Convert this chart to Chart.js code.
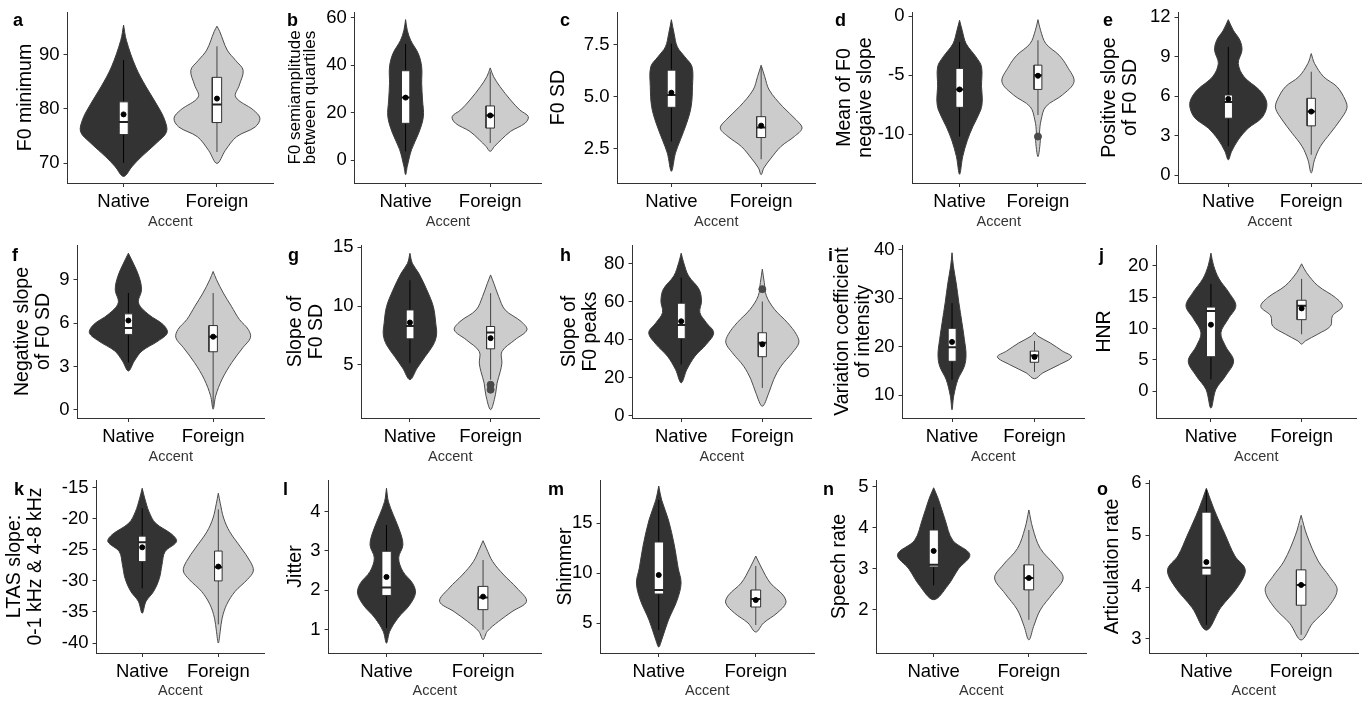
<!DOCTYPE html>
<html>
<head>
<meta charset="utf-8">
<script src="https://cdn.jsdelivr.net/npm/chart.js@4.4.1/dist/chart.umd.min.js"></script>
<style>
  body { margin: 0; background: #fff; width: 1370px; height: 702px; position: relative; overflow: hidden; }
  canvas { position: absolute; }
  .tag { position: absolute; font-family: 'Liberation Sans', Arial, sans-serif; font-weight: bold; font-size: 18px; line-height: 18px; color: #000; }
</style>
</head>
<body>
<script>
// ---- data ----
const categories = ['Native', 'Foreign'];
const panelLetters = ['a', 'b', 'c', 'd', 'e', 'f', 'g', 'h', 'i', 'j', 'k', 'l', 'm', 'n', 'o'];
const yTitles = [
  ['F0 minimum'], ['F0 semiamplitude', 'between quartiles'], ['F0 SD'], ['Mean of F0', 'negaive slope'], ['Positive slope', 'of F0 SD'],
  ['Negative slope', 'of F0 SD'], ['Slope of', 'F0 SD'], ['Slope of', 'F0 peaks'], ['Variation coefficient', 'of intensity'], ['HNR'],
  ['LTAS slope:', '0-1 kHz & 4-8 kHz'], ['Jitter'], ['Shimmer'], ['Speech rate'], ['Articulation rate']
];
const yTicks = [
  [70, 80, 90], [0, 20, 40, 60], [2.5, 5, 7.5], [-10, -5, 0], [0, 3, 6, 9, 12],
  [0, 3, 6, 9], [5, 10, 15], [0, 20, 40, 60, 80], [10, 20, 30, 40], [0, 5, 10, 15, 20],
  [-40, -35, -30, -25, -20, -15], [1, 2, 3, 4], [5, 10, 15], [2, 3, 4, 5], [3, 4, 5, 6]
];
const yTickLabels = [
  ['70', '80', '90'], ['0', '20', '40', '60'], ['2.5', '5.0', '7.5'], ['-10', '-5', '0'], ['0', '3', '6', '9', '12'],
  ['0', '3', '6', '9'], ['5', '10', '15'], ['0', '20', '40', '60', '80'], ['10', '20', '30', '40'], ['0', '5', '10', '15', '20'],
  ['-40', '-35', '-30', '-25', '-20', '-15'], ['1', '2', '3', '4'], ['5', '10', '15'], ['2', '3', '4', '5'], ['3', '4', '5', '6']
];
const yRanges = [
  [66.4, 97.8], [-9.5, 62.4], [0.86, 9.06], [-14.14, 0.37], [-0.58, 12.38],
  [-0.56, 11.4], [0.47, 15.2], [-1.2, 89.7], [5.3, 41], [-4.27, 23.3],
  [-41.6, -13.77], [0.41, 4.8], [2.0, 19.3], [0.95, 5.17], [2.73, 6.06]
];

// violin outlines: levels (top to bottom) and half widths (in category units)
const nativeViolinY = [
  [95.4, 92.6, 87.7, 84.1, 80.4, 78.0, 75.8, 73.7, 71.2, 69.4, 67.6],
  [59.2, 54.7, 50.5, 44.9, 39.3, 32.4, 25.4, 18.4, 11.5, 4.5, -2.5, -6.0],
  [8.69, 8.03, 7.39, 6.91, 6.43, 5.48, 4.52, 3.73, 2.93, 2.29, 1.42],
  [-0.34, -1.18, -2.31, -3.44, -4.28, -5.97, -7.1, -7.94, -9.35, -10.5, -11.9, -13.4],
  [11.8, 11.0, 10.24, 9.48, 8.48, 7.47, 6.47, 5.71, 5.08, 4.33, 3.57, 2.69, 1.81, 1.18],
  [10.83, 10.15, 9.23, 8.31, 7.39, 6.59, 5.9, 5.33, 4.76, 4.07, 3.38, 2.69],
  [14.49, 13.64, 12.79, 11.37, 9.96, 8.54, 7.55, 6.7, 5.71, 4.72, 3.73],
  [85.4, 80.5, 73.5, 66.5, 60.3, 54.2, 48.9, 43.6, 37.5, 31.3, 24.3, 17.3],
  [39.4, 36.7, 33.2, 29.1, 25.0, 21.5, 18.4, 16.0, 13.2, 9.8, 7.0],
  [22.0, 20.0, 17.9, 15.7, 13.6, 11.5, 9.3, 7.2, 4.8, 2.4, 0.27, -2.7],
  [-15.1, -16.7, -18.9, -20.7, -22.6, -23.7, -25.3, -27.4, -29.6, -31.7, -33.3, -35.2],
  [4.59, 4.25, 3.92, 3.49, 3.15, 2.82, 2.48, 2.18, 1.93, 1.63, 1.3, 0.96, 0.66],
  [18.7, 17.3, 15.3, 12.8, 10.5, 9.0, 7.3, 5.3, 3.3, 2.6],
  [4.98, 4.7, 4.2, 3.7, 3.35, 3.0, 2.6, 2.25],
  [5.9, 5.5, 5.0, 4.6, 4.33, 4.0, 3.6, 3.17]
];
const nativeViolinW = [
  [0, 0.03, 0.13, 0.24, 0.37, 0.44, 0.46, 0.35, 0.19, 0.09, 0],
  [0, 0.02, 0.06, 0.15, 0.19, 0.19, 0.2, 0.21, 0.155, 0.07, 0.02, 0],
  [0, 0.03, 0.066, 0.15, 0.23, 0.235, 0.22, 0.17, 0.1, 0.045, 0],
  [0, 0.033, 0.083, 0.21, 0.28, 0.28, 0.29, 0.27, 0.17, 0.1, 0.04, 0],
  [0, 0.06, 0.14, 0.165, 0.12, 0.19, 0.375, 0.455, 0.46, 0.4, 0.24, 0.12, 0.04, 0],
  [0, 0.057, 0.125, 0.155, 0.12, 0.24, 0.41, 0.46, 0.35, 0.16, 0.07, 0],
  [0, 0.03, 0.11, 0.21, 0.29, 0.32, 0.33, 0.29, 0.19, 0.09, 0],
  [0, 0.03, 0.09, 0.22, 0.25, 0.23, 0.31, 0.4, 0.31, 0.17, 0.07, 0],
  [0, 0.016, 0.05, 0.083, 0.12, 0.15, 0.17, 0.15, 0.07, 0.02, 0],
  [0, 0.03, 0.09, 0.2, 0.275, 0.19, 0.11, 0.16, 0.25, 0.16, 0.054, 0],
  [0, 0.033, 0.09, 0.175, 0.4, 0.45, 0.3, 0.26, 0.225, 0.15, 0.05, 0],
  [0, 0.02, 0.07, 0.14, 0.17, 0.126, 0.17, 0.27, 0.3, 0.24, 0.12, 0.034, 0],
  [0, 0.03, 0.1, 0.16, 0.2, 0.23, 0.19, 0.1, 0.03, 0],
  [0, 0.05, 0.12, 0.2, 0.38, 0.26, 0.15, 0],
  [0, 0.08, 0.2, 0.3, 0.41, 0.33, 0.15, 0]
];
const foreignViolinY = [
  [95.2, 94.2, 90.8, 88.9, 87.1, 84.4, 82.2, 79.8, 78.3, 76.7, 74.9, 72.4, 70.0],
  [38.9, 35.2, 31.0, 25.4, 21.2, 18.4, 15.6, 12.2, 8.7, 5.9, 3.8],
  [6.51, 5.96, 5.32, 4.52, 3.89, 3.49, 3.09, 2.61, 2.05, 1.58, 1.26],
  [-0.28, -1.18, -2.31, -3.3, -4.28, -5.55, -6.68, -7.66, -8.79, -9.92, -10.3, -11.9],
  [9.23, 8.48, 7.47, 6.72, 5.71, 5.08, 4.2, 3.19, 2.19, 1.18, 0.18],
  [9.57, 9.0, 8.08, 7.17, 6.25, 5.56, 4.99, 4.3, 3.27, 2.12, 0.97, 0.05],
  [12.65, 11.94, 10.81, 9.67, 8.68, 7.97, 7.12, 6.13, 5.14, 4.43, 3.44, 2.45, 1.18],
  [77.0, 70.0, 63.0, 55.9, 48.9, 42.7, 38.3, 33.1, 26.0, 19.0, 12.0, 5.0],
  [23.0, 22.2, 20.8, 19.1, 17.9, 16.3, 14.6, 13.4],
  [20.3, 18.9, 16.8, 14.9, 13.5, 12.0, 10.4, 9.1, 8.0, 7.5],
  [-15.9, -17.5, -19.9, -22.1, -24.7, -26.9, -28.4, -29.8, -31.7, -33.8, -36.0, -38.1, -40.0],
  [3.26, 3.07, 2.73, 2.39, 2.06, 1.72, 1.46, 1.21, 0.96, 0.75],
  [11.7, 10.5, 9.0, 7.8, 7.0, 6.0, 5.0, 4.1],
  [4.44, 4.0, 3.5, 3.1, 2.78, 2.4, 2.0, 1.6, 1.27],
  [5.38, 5.0, 4.5, 4.2, 3.94, 3.6, 3.3, 2.98]
];
const foreignViolinW = [
  [0, 0.03, 0.11, 0.2, 0.28, 0.24, 0.2, 0.39, 0.46, 0.41, 0.21, 0.09, 0],
  [0, 0.04, 0.116, 0.24, 0.35, 0.45, 0.41, 0.24, 0.13, 0.05, 0],
  [0, 0.04, 0.09, 0.24, 0.39, 0.455, 0.37, 0.22, 0.11, 0.03, 0],
  [0, 0.033, 0.1, 0.27, 0.375, 0.46, 0.31, 0.1, 0.04, 0.02, 0.033, 0],
  [0, 0.04, 0.15, 0.31, 0.41, 0.43, 0.35, 0.23, 0.11, 0.04, 0],
  [0, 0.04, 0.12, 0.215, 0.31, 0.415, 0.44, 0.35, 0.22, 0.105, 0.03, 0],
  [0, 0.04, 0.1, 0.18, 0.38, 0.45, 0.3, 0.14, 0.14, 0.12, 0.08, 0.06, 0],
  [0, 0.024, 0.05, 0.15, 0.31, 0.42, 0.45, 0.37, 0.23, 0.14, 0.08, 0],
  [0, 0.04, 0.19, 0.34, 0.45, 0.3, 0.1, 0],
  [0, 0.054, 0.18, 0.375, 0.45, 0.34, 0.32, 0.18, 0.04, 0],
  [0, 0.025, 0.07, 0.15, 0.3, 0.42, 0.46, 0.38, 0.22, 0.11, 0.05, 0.025, 0],
  [0, 0.034, 0.1, 0.215, 0.35, 0.45, 0.3, 0.16, 0.044, 0],
  [0, 0.06, 0.15, 0.28, 0.31, 0.22, 0.08, 0],
  [0, 0.04, 0.12, 0.27, 0.36, 0.25, 0.12, 0.05, 0],
  [0, 0.06, 0.18, 0.3, 0.38, 0.28, 0.12, 0]
];

// box stats: [lower whisker, Q1, median, Q3, upper whisker]
const nativeBox = [
  [70.1, 75.3, 77.6, 81.3, 89], [3.8, 15.6, 26.4, 37.7, 49], [2.85, 4.49, 5.08, 6.27, 7.55], [-10.2, -7.72, -6.2, -4.42, -2.17], [2.19, 4.33, 5.55, 6.09, 9.74],
  [3.27, 5.22, 5.67, 6.64, 8.08], [5.14, 7.21, 8.31, 9.67, 12.2], [26.9, 40.5, 47.7, 59.1, 72.6], [13.2, 17.0, 19.9, 23.8, 29], [1.9, 5.5, 12.8, 13.4, 17.1],
  [-31.2, -26.9, -23.8, -22.8, -18.3], [1.04, 1.87, 2.07, 2.99, 3.66], [4.3, 7.9, 8.3, 13.1, 17.3], [2.6, 3.05, 3.1, 3.95, 4.5], [3.27, 4.23, 4.37, 5.44, 5.87]
];
const foreignBox = [
  [72.1, 77.5, 80.8, 85.8, 91.5], [7.3, 13.6, 18.9, 22.9, 37.3], [2.0, 3.04, 3.52, 4.04, 6.43], [-8.37, -6.2, -4.99, -4.14, -2.03], [1.56, 3.75, 4.83, 5.84, 7.85],
  [0.17, 4.02, 5.06, 5.83, 8.08], [3.73, 6.36, 7.75, 8.26, 11.1], [14.6, 31.0, 38.3, 43.6, 60], [14.8, 16.8, 18.2, 19.1, 21.2], [9.07, 11.4, 13.6, 14.5, 17.9],
  [-37, -30.0, -27.8, -25.2, -18.5], [1.0, 1.51, 1.82, 2.1, 2.77], [4.8, 6.6, 7.4, 8.3, 10.7], [1.76, 2.49, 2.78, 3.1, 3.95], [3.08, 3.65, 4.04, 4.33, 5.19]
];
const nativeMean = [79.0, 26.4, 5.19, -6.2, 5.79, 6.18, 8.6, 49.6, 21.0, 10.6, -24.6, 2.34, 9.8, 3.44, 4.48];
const foreignMean = [81.9, 18.9, 3.61, -5.04, 4.83, 5.06, 7.27, 37.5, 17.9, 13.2, -27.7, 1.84, 7.3, 2.78, 4.04];
const foreignOutliers = [[], [], [], [-10.2], [], [], [3.3, 2.88], [66.5], [], [], [], [], [], [], []];

// ---- layout (pixel geometry of each panel) ----
const rowTop = [0, 233, 467];
const rowAxisTop = [12, 245, 480];
const rowAxisBottom = [183, 418, 653];
const rowBottom = [231, 466, 700];
const titleCenterX = [26, 295, 559, 845, 1110, 23, 296, 570, 843, 1105, 15, 296, 566, 840, 1113];
const axisLeftX = [68, 355, 618, 913, 1179, 78, 362, 633, 903, 1157, 97, 329, 601, 877, 1150];
const axisRightX = [277, 545, 819, 1089, 1365, 268, 543, 815, 1088, 1360, 268, 545, 818, 1090, 1362];
const letterPos = [[13, 11], [287, 11], [560, 11], [835, 11], [1103, 11], [12, 246], [288, 246], [560, 246], [828, 246], [1099, 246], [14, 480], [283, 480], [548, 480], [823, 480], [1097, 480]];

const FONT = "'Liberation Sans', Arial, sans-serif";
Chart.defaults.font.family = FONT;

const NATIVE_FILL = '#333333';
const FOREIGN_FILL = '#cccccc';
const BOX_HALF = 0.05;

function violinPoints(center, ys, ws) {
  const right = ys.map((y, i) => ({x: center + ws[i], y: y}));
  const left = ys.map((y, i) => ({x: center - ws[i], y: y})).reverse().slice(1);
  return right.concat(left);
}

function groupDatasets(center, ys, ws, box, mean, outliers, isNative) {
  const sets = [];
  // violin outline
  sets.push({
    data: violinPoints(center, ys, ws),
    fill: 'shape',
    backgroundColor: isNative ? NATIVE_FILL : FOREIGN_FILL,
    borderColor: isNative ? '#3c3c3c' : '#4d4d4d',
    borderWidth: 1,
    pointRadius: 0,
    tension: 0.35,
    order: 6
  });
  // whisker
  sets.push({
    data: [{x: center, y: box[0]}, {x: center, y: box[4]}],
    borderColor: isNative ? '#000' : '#444',
    borderWidth: 1,
    pointRadius: 0,
    order: 5
  });
  // box
  sets.push({
    data: [
      {x: center - BOX_HALF, y: box[1]}, {x: center + BOX_HALF, y: box[1]},
      {x: center + BOX_HALF, y: box[3]}, {x: center - BOX_HALF, y: box[3]},
      {x: center - BOX_HALF, y: box[1]}
    ],
    fill: 'shape',
    backgroundColor: '#ffffff',
    borderColor: '#333',
    borderWidth: 1,
    pointRadius: 0,
    tension: 0,
    order: 4
  });
  // median
  sets.push({
    data: [{x: center - BOX_HALF, y: box[2]}, {x: center + BOX_HALF, y: box[2]}],
    borderColor: '#222',
    borderWidth: 2,
    pointRadius: 0,
    order: 3
  });
  if (outliers.length) {
    sets.push({
      data: outliers.map(v => ({x: center, y: v})),
      showLine: false,
      pointRadius: 3.5,
      pointBackgroundColor: '#4a4a4a',
      pointBorderColor: '#4a4a4a',
      order: 2
    });
  }
  // mean
  sets.push({
    data: [{x: center, y: mean}],
    showLine: false,
    pointRadius: 2.5,
    pointBackgroundColor: '#000',
    pointBorderColor: '#000',
    order: 1
  });
  return sets;
}

for (let p = 0; p < 15; p++) {
  const row = Math.floor(p / 5);
  const titleSize = p === 1 ? 17 : 19.5;
  const titleLH = p === 1 ? 0.92 : 1.08;
  const canvasLeft = titleCenterX[p] - titleSize * titleLH / 2;
  const width = Math.round(axisRightX[p] + 1 - canvasLeft);
  const height = rowBottom[row] - rowTop[row];

  const canvas = document.createElement('canvas');
  canvas.width = width;
  canvas.height = height;
  canvas.style.left = canvasLeft + 'px';
  canvas.style.top = rowTop[row] + 'px';
  document.body.appendChild(canvas);

  const tag = document.createElement('div');
  tag.className = 'tag';
  tag.textContent = panelLetters[p];
  tag.style.left = letterPos[p][0] + 'px';
  tag.style.top = letterPos[p][1] + 'px';
  document.body.appendChild(tag);

  const datasets = []
    .concat(groupDatasets(1, nativeViolinY[p], nativeViolinW[p], nativeBox[p], nativeMean[p], [], true))
    .concat(groupDatasets(2, foreignViolinY[p], foreignViolinW[p], foreignBox[p], foreignMean[p], foreignOutliers[p], false));

  const yW = axisLeftX[p] - canvasLeft;
  const xH = rowBottom[row] - rowAxisBottom[row];
  const ticks = yTicks[p];
  const labels = yTickLabels[p];

  new Chart(canvas, {
    type: 'line',
    data: {datasets: datasets},
    options: {
      responsive: false,
      animation: false,
      devicePixelRatio: 1,
      layout: {padding: {top: rowAxisTop[row] - rowTop[row], right: 1, left: 0, bottom: 0}},
      plugins: {legend: {display: false}, tooltip: {enabled: false}},
      scales: {
        x: {
          type: 'linear',
          min: 0.4,
          max: 2.6,
          afterBuildTicks: s => { s.ticks = [{value: 1}, {value: 2}]; },
          afterFit: s => { s.height = xH; s.paddingLeft = 0; s.paddingRight = 0; },
          ticks: {
            callback: v => categories[Math.round(v) - 1],
            font: {size: 18.5},
            color: '#000',
            padding: 4,
            autoSkip: false,
            maxRotation: 0
          },
          grid: {display: true, drawOnChartArea: false, drawTicks: true, tickLength: 4, tickColor: '#333'},
          border: {display: true, color: '#333', width: 1},
          title: {display: true, text: 'Accent', font: {size: 14.5, lineHeight: 1.2}, color: '#333', padding: 0}
        },
        y: {
          type: 'linear',
          min: yRanges[p][0],
          max: yRanges[p][1],
          afterBuildTicks: s => { s.ticks = ticks.map(v => ({value: v})); },
          afterFit: s => { s.width = yW; s.paddingTop = 0; s.paddingBottom = 0; },
          ticks: {
            callback: (v, i) => labels[i],
            font: {size: 18.5},
            color: '#000',
            padding: 4,
            autoSkip: false
          },
          grid: {display: true, drawOnChartArea: false, drawTicks: true, tickLength: 4, tickColor: '#333'},
          border: {display: true, color: '#333', width: 1},
          title: {
            display: true,
            text: yTitles[p],
            font: {size: titleSize, lineHeight: titleLH},
            color: '#000',
            padding: 0
          }
        }
      }
    }
  });
}
</script>
</body>
</html>
